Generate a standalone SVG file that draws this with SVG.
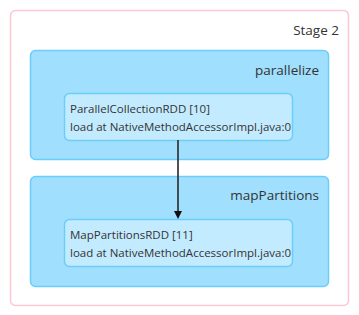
<svg xmlns="http://www.w3.org/2000/svg" width="359" height="315" viewBox="0 0 359 315">
<defs>
<style>
.stage{fill:#ffffff;stroke:#ffc6d3;stroke-width:1.5}
.cluster{fill:#a0dffd;stroke:#6ccdfb;stroke-width:1.5}
.node{fill:#c3ebff;stroke:#6ccdfb;stroke-width:1.5}
text{font-family:"Open Sans","Noto Sans","Liberation Sans",sans-serif;fill:#333333}
.lbl{font-size:13.5px;text-anchor:end}
.nt{font-size:11.5px}
.edge{stroke:#333333;stroke-opacity:0.85;stroke-width:2;fill:none}
</style>
</defs>
<g id="stage2">
<rect class="stage" x="10.5" y="10.5" width="338" height="295" rx="5"/>
<text class="lbl" x="339" y="35">Stage 2</text>
</g>
<g id="parallelize">
<rect class="cluster" x="30.5" y="50.5" width="298" height="109" rx="5"/>
<text class="lbl" x="319" y="75">parallelize</text>
</g>
<g id="mapPartitions">
<rect class="cluster" x="30.5" y="176.5" width="298" height="110" rx="5"/>
<text class="lbl" x="319" y="200">mapPartitions</text>
</g>
<g id="node10">
<rect class="node" x="64.5" y="93.5" width="228" height="47" rx="5"/>
<text class="nt" x="70" y="113">ParallelCollectionRDD [10]</text>
<text class="nt" x="70" y="131">load at NativeMethodAccessorImpl.java:0</text>
</g>
<g id="node11">
<rect class="node" x="64.5" y="219.5" width="228" height="47" rx="5"/>
<text class="nt" x="70" y="239">MapPartitionsRDD [11]</text>
<text class="nt" x="70" y="257">load at NativeMethodAccessorImpl.java:0</text>
</g>
<g id="connectors">
<line class="edge" x1="178" y1="140" x2="178" y2="211"/>
<path d="M174,211 L182,211 L178,219 Z" fill="#111111"/>
</g>
</svg>
